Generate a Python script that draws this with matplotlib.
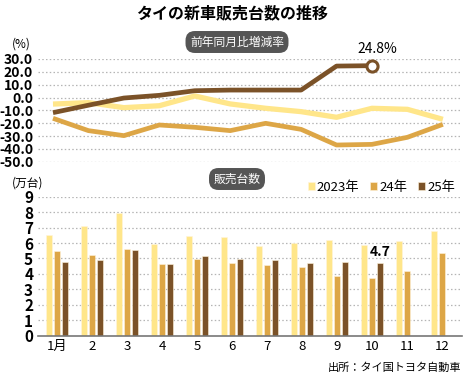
import matplotlib
matplotlib.use("Agg")
import matplotlib.pyplot as plt
import numpy as np

plt.rcParams['font.family'] = ['Noto Sans CJK JP', 'DejaVu Sans']

# data
months = ["1月", "2", "3", "4", "5", "6", "7", "8", "9", "10", "11", "12"]
series_names = ["2023年", "24年", "25年"]
sales_2023 = [6.52, 7.1, 7.97, 5.94, 6.46, 6.39, 5.81, 6.0, 6.18, 5.85, 6.13, 6.78]
sales_2024 = [5.47, 5.25, 5.6, 4.64, 4.95, 4.71, 4.58, 4.47, 3.87, 3.76, 4.19, 5.36]
sales_2025 = [4.77, 4.9, 5.55, 4.67, 5.18, 4.97, 4.88, 4.73, 4.79, 4.7]
yoy_2023 = [-5.1, -4.0, -7.9, -6.4, 1.2, -5.0, -8.4, -11.0, -15.4, -8.4, -9.2, -17.0]
yoy_2024 = [-16.2, -25.8, -29.7, -21.4, -23.2, -25.8, -20.1, -24.8, -37.0, -36.5, -31.0, -20.9]
yoy_2025 = [-11.8, -6.0, -0.4, 1.7, 5.3, 5.8, 5.8, 5.8, 24.5, 24.8]
yoy_ticks = [30, 20, 10, 0, -10, -20, -30, -40, -50]
sales_ticks = list(range(10))

colors = ["#FFE68A", "#DDA646", "#7B5228"]
grid_kw = dict(color="#b5b5b5", linewidth=0.9, linestyle=(0, (1.2, 1.8)))
num_font = ['Liberation Sans Narrow', 'Noto Sans CJK JP', 'DejaVu Sans']

fig = plt.figure(figsize=(4.65, 3.8), dpi=100)
W, H = 465, 380

def fx(px):
    return px / W

def fy(py):
    return 1 - py / H

# ---- top: year-on-year change ----
ax1 = fig.add_axes([fx(38), fy(161.7), fx(424), (161.7 - 59) / H])
x = np.arange(len(months))
ax1.set_xlim(-0.423, 11.54)
ax1.set_ylim(-50, 30)
for t in yoy_ticks:
    ax1.axhline(t, zorder=0, **grid_kw)
ax1.plot(x[:len(yoy_2023)], yoy_2023, color=colors[0], lw=3.8, solid_capstyle="butt", clip_on=False)
ax1.plot(x[:len(yoy_2024)], yoy_2024, color=colors[1], lw=3.4, solid_capstyle="butt", clip_on=False)
ax1.plot(x[:len(yoy_2025)], yoy_2025, color=colors[2], lw=3.4, solid_capstyle="butt", clip_on=False)
last = len(yoy_2025) - 1
ax1.plot(x[last], yoy_2025[last], "o", ms=8, mfc="white", mec=colors[2], mew=2.2, clip_on=False, zorder=5)
ax1.annotate(f"{yoy_2025[last]}%", (x[last], yoy_2025[last]), xytext=(4, 7), textcoords="offset points",
             ha="center", va="bottom", fontsize=10, family=num_font)
ax1.set_yticks(yoy_ticks)
ax1.set_yticklabels([f"{t:.1f}" for t in yoy_ticks], family=num_font, fontweight="bold", fontsize=10)
ax1.set_xticks([])
ax1.tick_params(axis="y", length=0, pad=3.5)
for s in ax1.spines.values():
    s.set_visible(False)

# ---- bottom: sales volume ----
ax2 = fig.add_axes([fx(38), fy(335.7), fx(424), (335.7 - 196.7) / H])
ax2.set_xlim(-0.543, 11.57)
ax2.set_ylim(0, 9)
for t in sales_ticks[1:]:
    ax2.axhline(t, zorder=0, **grid_kw)
bw = 0.19
off = 0.23
all_sales = [sales_2023, sales_2024, sales_2025]
for i, vals in enumerate(all_sales):
    ax2.bar(np.arange(len(vals)) + (i - 1) * off, vals, width=bw, color=colors[i],
            edgecolor="#fff4dc", linewidth=0.4, label=series_names[i], zorder=2)
ax2.annotate(f"{sales_2025[-1]}", (len(sales_2025) - 1 + off, sales_2025[-1]), xytext=(0, 3),
             textcoords="offset points", ha="center", va="bottom", fontsize=10,
             family=num_font, fontweight="bold")
ax2.set_yticks(sales_ticks)
ax2.set_yticklabels([str(t) for t in sales_ticks], family=num_font, fontweight="bold", fontsize=11)
ax2.set_xticks(x)
ax2.set_xticklabels(months, fontsize=9.5)
ax2.tick_params(axis="y", length=0, pad=3.5)
ax2.tick_params(axis="x", length=0, pad=3)
for s in ["top", "right", "left"]:
    ax2.spines[s].set_visible(False)
ax2.spines["bottom"].set_color("#777777")
ax2.spines["bottom"].set_linewidth(1.2)
ax2.legend(loc="center right", bbox_to_anchor=(fx(455), fy(187)), bbox_transform=fig.transFigure,
           ncol=3, frameon=False, fontsize=9.5, handlelength=0.55, handleheight=0.55,
           handletextpad=0.15, columnspacing=0.8, borderpad=0, borderaxespad=0)

# ---- texts ----
fig.text(fx(232), fy(13), "タイの新車販売台数の推移", ha="center", va="center", fontsize=11.5, fontweight="bold")
pill = dict(boxstyle="round,pad=0.38,rounding_size=0.8", fc="#555555", ec="none")
fig.text(fx(237), fy(42), "前年同月比増減率", ha="center", va="center", fontsize=8.5, color="white", bbox=pill)
fig.text(fx(237), fy(179), "販売台数", ha="center", va="center", fontsize=8.5, color="white", bbox=pill)
fig.text(fx(12), fy(44), "(%)", ha="left", va="center", fontsize=8.5)
fig.text(fx(12), fy(183), "(万台)", ha="left", va="center", fontsize=8.5)
fig.text(fx(461), fy(368), "出所：タイ国トヨタ自動車", ha="right", va="center", fontsize=8)

fig.savefig("out.png", dpi=100)
